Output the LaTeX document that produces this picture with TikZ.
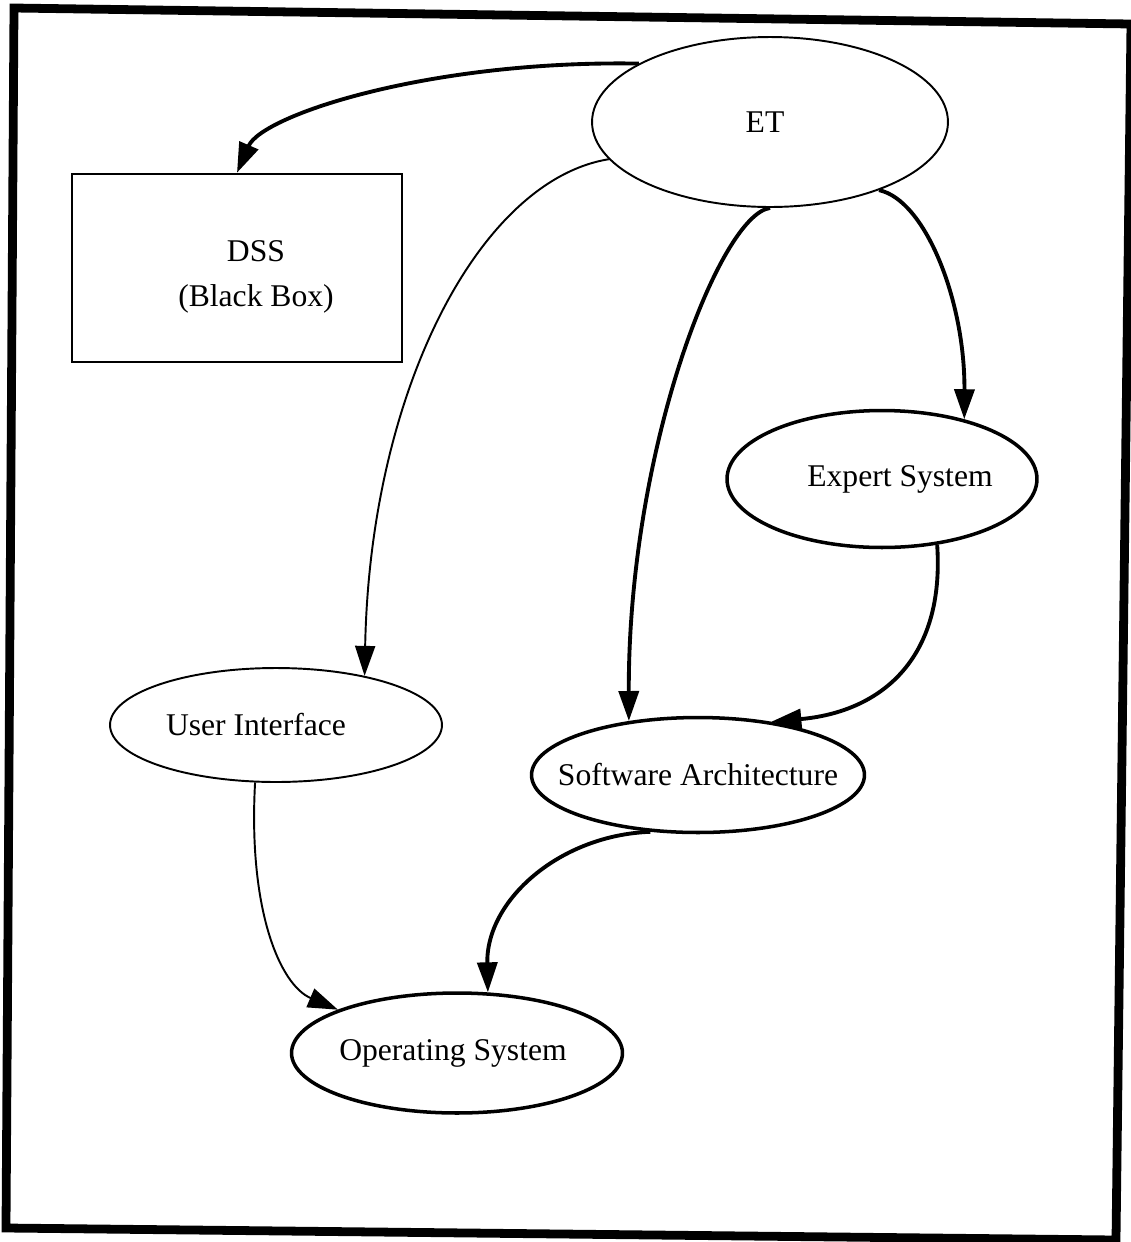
\documentclass[tikz,border=0pt]{standalone}
\usepackage{fontspec}
\setmainfont{Liberation Serif}
\usetikzlibrary{shapes.geometric,arrows.meta}
\begin{document}
\begin{tikzpicture}
[x=0.02cm,y=-0.02cm,
 nodedecorate/.style={shape=ellipse,draw,inner sep=0pt,font=\fontsize{18}{24}\selectfont},%
 boxdecorate/.style={shape=rectangle,draw,line width=1.4pt,inner sep=0pt},%
 textdecorate/.style={align=center,inner sep=0pt,font=\fontsize{18}{25.5}\selectfont},%
 linedecorate/.style={-{Triangle[length=0.6cm,width=0.4cm]},line width=#1},%
 linedecorate/.default=2.2pt]
\useasboundingbox (0,0) rectangle (1131,1242);
%% frame
\draw[line width=5pt,line join=miter] (14,8) -- (1131,24) -- (1116,1240) -- (6,1228) -- cycle;
%% nodes or vertices
\foreach \nodename/\x/\y/\w/\h/\lw/\tx/\txt in {ET/770/122/7.12/3.4/1.1pt/-0.2cm/ET,
  Expert/882/479/6.2/2.74/2pt/0.72cm/Expert System, UI/276/725/6.64/2.28/1.1pt/-0.8cm/User Interface,
  SA/698/775/6.66/2.3/2pt/0cm/Software Architecture, OS/457/1053/6.62/2.4/2pt/-0.16cm/Operating System} {
  \node (\nodename) at (\x,\y) [nodedecorate,minimum width=\w cm,minimum height=\h cm,line width=\lw] {\makebox[0pt]{\hspace*{\tx}\txt}};
}
\node (DSS) at (237,268) [boxdecorate,minimum width=6.6cm,minimum height=3.76cm] {};
\node (DSStext) at (256,277) [textdecorate] {DSS\\(Black Box)};
%% edges or lines
\foreach \startnode/\cax/\cay/\cbx/\cby/\endnode/\lw in {ET.156/430/60/262/115/DSS.north/2.2pt,
  ET.193/480/180/370/390/UI.29/1.1pt, ET.south/720/215/628/450/SA.142/2.2pt,
  ET.328/925/200/965/300/Expert.36/2.2pt, Expert.310/945/660/880/712/SA.36/2.2pt,
  UI.250/248/910/280/985/OS.160/1.1pt, SA.230/560/835/486/900/OS.63/2.2pt} {
  \draw[linedecorate=\lw] (\startnode) .. controls (\cax,\cay) and (\cbx,\cby) .. (\endnode);
}
\end{tikzpicture}
\end{document}
